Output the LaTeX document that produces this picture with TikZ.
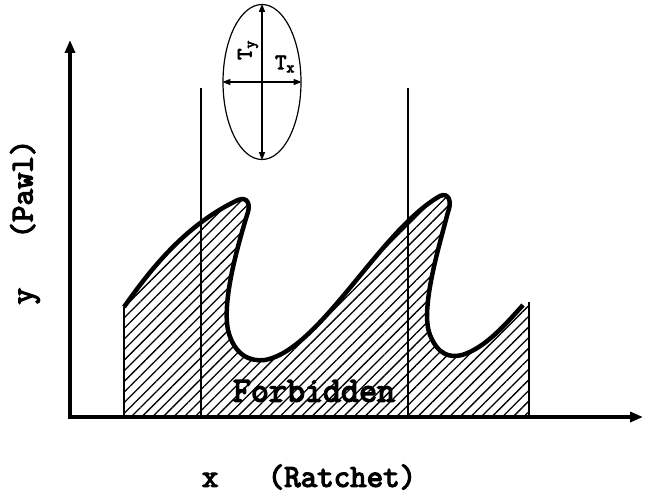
\documentclass[tikz,border=0pt]{standalone}
\usepackage{fontspec}
\newfontfamily\slabmono[FakeBold=4]{Latin Modern Mono}
\usetikzlibrary{arrows.meta,patterns.meta,shapes.geometric}
\begin{document}
\begin{tikzpicture}[x=1pt,y=-1pt,
  axis/.style={line width=4pt,-{Triangle[length=13pt,width=10pt]}},
  thin/.style={line width=1.2pt},
  dbl/.style={line width=1.4pt,{Triangle[length=8pt,width=6pt]}-{Triangle[length=8pt,width=6pt]}},
  lbl/.style={font=\slabmono\fontsize{32}{32}\selectfont,inner sep=0pt}]
\useasboundingbox (0,0) rectangle (647,495);

\fill[pattern={Lines[angle=45,distance=7.5pt,line width=1.3pt]}]
  (124,417) -- (124,307) .. controls (150,270) and (185,225) .. (238,200)
  .. controls (248,196) and (251,205) .. (247,215)
  .. controls (238,245) and (222,300) .. (228,330)
  .. controls (234,355) and (250,362) .. (265,360)
  .. controls (320,350) and (380,230) .. (440,196)
  .. controls (449,192) and (452,202) .. (448,212)
  .. controls (438,250) and (420,310) .. (430,335)
  .. controls (438,355) and (450,358) .. (462,355)
  .. controls (485,348) and (505,325) .. (529,302) -- (529,417) -- cycle;
\draw[thin] (124,417) -- (124,307);
\draw[thin] (529,417) -- (529,302);
\draw[line width=4.5pt,line join=round]
  (124,307) .. controls (150,270) and (185,225) .. (238,200)
  .. controls (248,196) and (251,205) .. (247,215)
  .. controls (238,245) and (222,300) .. (228,330)
  .. controls (234,355) and (250,362) .. (265,360)
  .. controls (320,350) and (380,230) .. (440,196)
  .. controls (449,192) and (452,202) .. (448,212)
  .. controls (438,250) and (420,310) .. (430,335)
  .. controls (438,355) and (450,358) .. (462,355)
  .. controls (485,348) and (505,325) .. (523,305);

\draw[thin] (201,88) -- (201,417);
\draw[thin] (408,88) -- (408,417);

\coordinate (o) at (70,417);
\coordinate (ytip) at (70,40);
\coordinate (xtip) at (643,417);
\draw[axis] (o) -- (ytip);
\draw[axis] ([xshift=-2pt]o) -- (xtip);

\node[draw,thin,ellipse,minimum width=78pt,minimum height=155pt,inner sep=0pt] (ell) at (262,82) {};
\draw[dbl] (ell.north) -- (ell.south);
\draw[dbl] (ell.west) -- (ell.east);
\node[lbl,font=\slabmono\fontsize{22}{22}\selectfont,rotate=90] (ty) at (248,50) {T\textsubscript{y}};
\node[lbl,font=\slabmono\fontsize{22}{22}\selectfont] (tx) at (285,64) {T\textsubscript{x}};

\node[lbl,font=\slabmono\fontsize{35}{35}\selectfont] (forb) at (314,391) {Forbidden};
\node[lbl] (xlbl) at (309,477) {x\ \ \ (Ratchet)};
\node[lbl,rotate=90] (ylbl) at (25,222) {y\ \ \ (Pawl)};
\end{tikzpicture}
\end{document}
